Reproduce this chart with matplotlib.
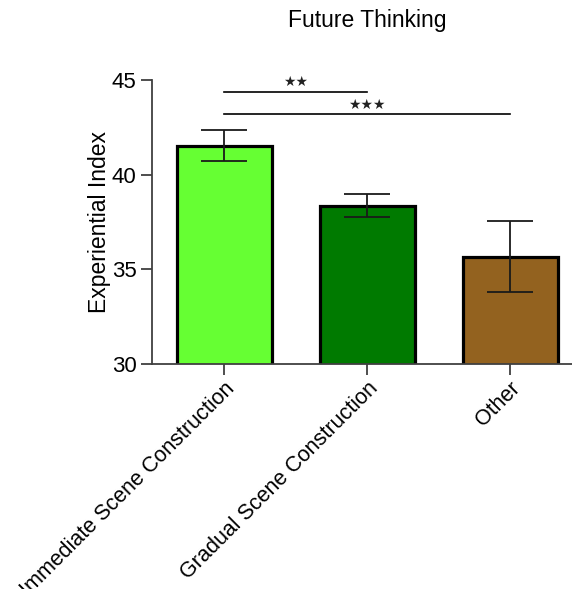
import matplotlib
matplotlib.use("Agg")
import matplotlib.pyplot as plt
from matplotlib.transforms import ScaledTranslation

categories = ["Immediate Scene Construction", "Gradual Scene Construction", "Other"]
means = [41.53, 38.36, 35.67]
sems = [0.83, 0.61, 1.87]
colors = ["#66ff33", "#007a00", "#93621f"]

# pairwise comparisons: (group a, group b, y level, stars)
comparisons = [(0, 1, 44.38, 2), (0, 2, 43.2, 3)]

plt.rcParams["font.family"] = ["Liberation Sans", "DejaVu Sans"]

fig = plt.figure(figsize=(5.72, 5.89), dpi=100)
ax = fig.add_axes([0.2657, 0.382, 0.7526, 0.4822])

x = list(range(len(categories)))
ax.bar(x, means, width=0.665, color=colors, edgecolor="black", linewidth=2.3, zorder=2)
ax.errorbar(x, means, yerr=sems, fmt="none", ecolor="#1a1a1a", elinewidth=1.3,
            capsize=16.5, capthick=1.3, zorder=3)

for a, b, y, n in comparisons:
    ax.plot([a, b], [y, y], color="black", linewidth=1.2, clip_on=False)
    ax.text((a + b) / 2, y + 0.5, "\u2605" * n, ha="center", va="center",
            fontsize=10, family="DejaVu Sans", color="#222222")

ax.set_xlim(-0.507, 2.507)
ax.set_ylim(30, 45)
ax.set_yticks([30, 35, 40, 45])
ax.set_xticks(x)
ax.set_xticklabels(categories, rotation=45, ha="right", va="top",
                   rotation_mode="anchor", fontsize=15.5)
shift = ScaledTranslation(-4 / 72, 0, fig.dpi_scale_trans)
for lab in ax.get_xticklabels():
    lab.set_transform(lab.get_transform() + shift)
ax.tick_params(axis="y", labelsize=16, length=8, width=1.3, color="#404040", pad=3)
ax.tick_params(axis="x", length=8, width=1.3, color="#404040", pad=2)
ax.set_ylabel("Experiential Index", fontsize=16.5, labelpad=1)
ax.set_title("Future Thinking", fontsize=16.5, pad=38)

for side in ["top", "right"]:
    ax.spines[side].set_visible(False)
for side in ["left", "bottom"]:
    ax.spines[side].set_linewidth(1.3)
    ax.spines[side].set_color("#404040")

plt.savefig("out.png", dpi=100)
plt.close()
